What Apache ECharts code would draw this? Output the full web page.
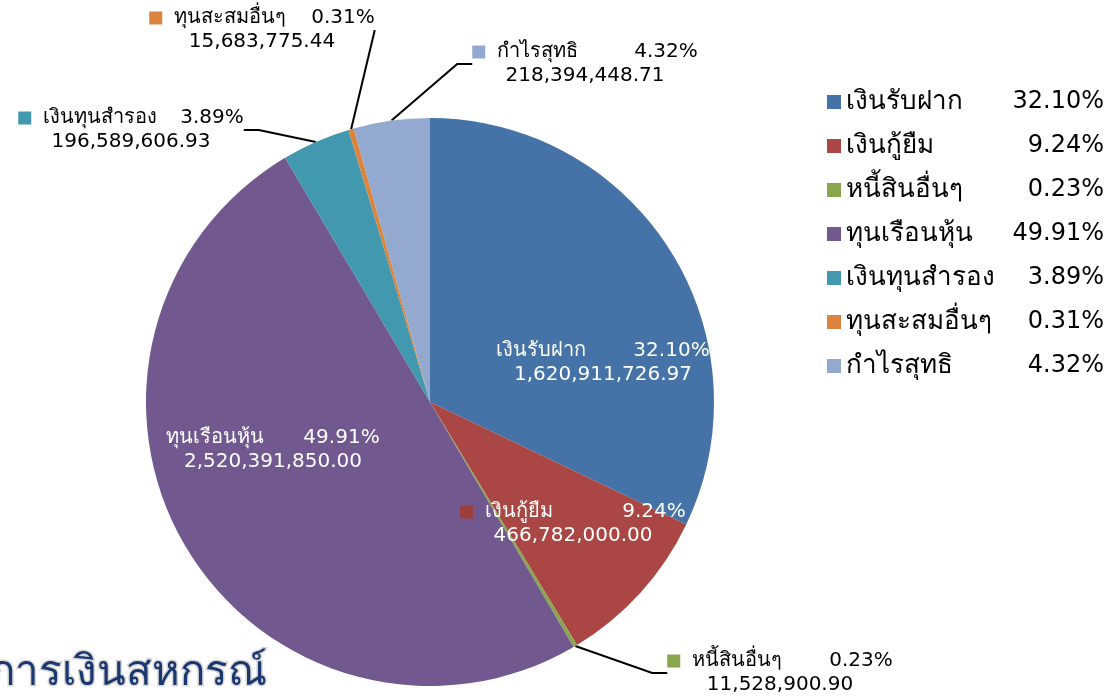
<!DOCTYPE html>
<html>
<head>
<meta charset="utf-8">
<title>สัดส่วนหนี้สินและทุน</title>
<script src="https://cdn.jsdelivr.net/npm/echarts@6/dist/echarts.min.js"></script>
<style>
  html, body { margin: 0; padding: 0; background: #fff; }
  #main { width: 1117px; height: 697px; }
</style>
</head>
<body>
<div id="main"></div>
<script>
// ข้อมูล
var names = ['เงินรับฝาก', 'เงินกู้ยืม', 'หนี้สินอื่นๆ', 'ทุนเรือนหุ้น', 'เงินทุนสำรอง', 'ทุนสะสมอื่นๆ', 'กำไรสุทธิ'];
var values = [1620911726.97, 466782000.00, 11528900.90, 2520391850.00, 196589606.93, 15683775.44, 218394448.71];
var colors = ['#4572A7', '#AA4643', '#89A54E', '#71588F', '#4198AF', '#DB843D', '#93A9CF'];
var insideIdx = [0, 1, 3];

var FONT = 'Tahoma, Verdana, "DejaVu Sans", sans-serif';
var total = values.reduce(function (a, b) { return a + b; }, 0);

function fmt(v) {
    var s = v.toFixed(2).split('.');
    return s[0].replace(/\B(?=(\d{3})+(?!\d))/g, ',') + '.' + s[1];
}
function pct(v) {
    return (v / total * 100).toFixed(2) + '%';
}

// centre of each label block, as placed in the original
var labelPos = {
    0: [603, 363], 1: [573, 524], 3: [273, 450],
    2: [780, 673], 4: [131, 130], 5: [262, 30], 6: [585, 64]
};

var pieData = names.map(function (n, i) {
    var inside = insideIdx.indexOf(i) >= 0;
    return {
        name: n,
        value: values[i],
        itemStyle: { color: colors[i] },
        label: {
            position: inside ? 'inside' : 'outside',
            color: inside ? '#fff' : '#000'
        },
        labelLine: { show: !inside }
    };
});

var markRich = {};
colors.forEach(function (c, i) {
    markRich['m' + i] = { width: 13, height: 13, align: 'left', backgroundColor: i === 1 ? '#A03E3B' : c };
});
markRich.s = { width: 12, align: 'left' };
markRich.n = { fontFamily: FONT, fontSize: 20, width: 137, align: 'left' };
markRich.p = { fontFamily: FONT, fontSize: 20, align: 'left' };

var myChart = echarts.init(document.getElementById('main'));
myChart.setOption({
    backgroundColor: '#fff',
    animation: false,
    legend: {
        orient: 'vertical',
        left: 822,
        top: 84,
        itemWidth: 14,
        itemHeight: 14,
        itemGap: 18,
        icon: 'rect',
        data: names,
        formatter: function (name) {
            var i = names.indexOf(name);
            return '{n|' + name + '}{p|' + pct(values[i]) + '}';
        },
        textStyle: {
            fontFamily: FONT,
            fontSize: 24,
            color: '#000',
            rich: {
                n: { fontFamily: FONT, fontSize: 26, width: 166, color: '#000' },
                p: { fontFamily: FONT, fontSize: 24, width: 92, align: 'right', color: '#000' }
            }
        }
    },
    graphic: [{
        type: 'text',
        left: -12,
        bottom: 0,
        style: {
            text: 'การเงินสหกรณ์',
            font: '42px ' + FONT,
            fill: '#1B3770',
            stroke: '#d8d8d8',
            lineWidth: 3
        }
    }],
    series: [{
        type: 'pie',
        center: [430, 402],
        radius: 284,
        startAngle: 90,
        clockwise: true,
        avoidLabelOverlap: false,
        data: pieData,
        label: {
            fontFamily: FONT,
            fontSize: 20,
            lineHeight: 24,
            align: 'center',
            formatter: function (p) {
                var inside = insideIdx.indexOf(p.dataIndex) >= 0;
                var mk = (!inside || p.dataIndex === 1) ? '{m' + p.dataIndex + '|}{s|}' : '';
                return mk + '{n|' + p.name + '}{p|' + pct(p.value) + '}\n' + fmt(p.value);
            },
            rich: markRich
        },
        labelLine: {
            lineStyle: { color: '#000', width: 2 },
            length: 30,
            length2: 15
        },
        labelLayout: function (params) {
            var p = labelPos[params.dataIndex];
            return {
                x: p[0],
                y: p[1],
                align: 'center',
                verticalAlign: 'middle'
            };
        }
    }]
});
</script>
</body>
</html>
